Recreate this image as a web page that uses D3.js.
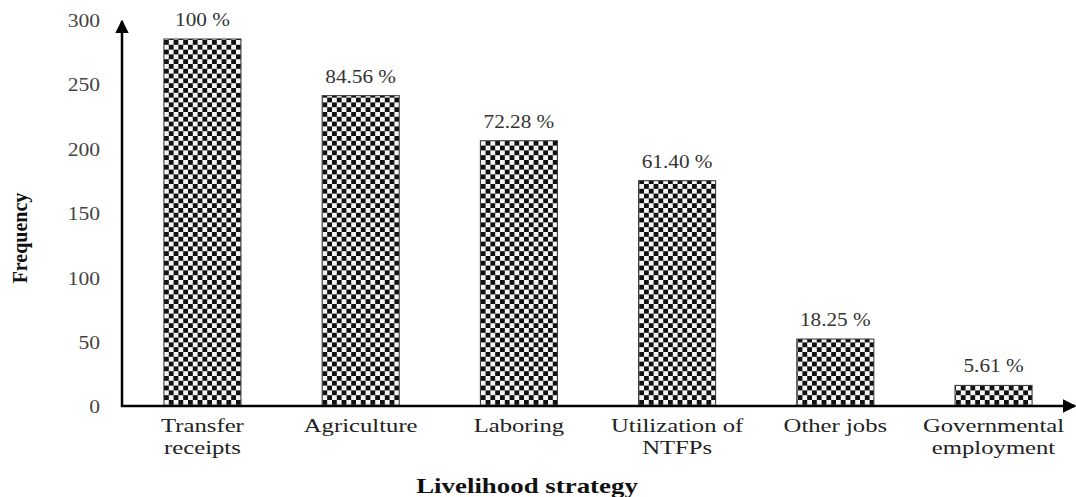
<!DOCTYPE html>
<html>
<head>
<meta charset="utf-8">
<script src="https://cdn.jsdelivr.net/npm/d3@7"></script>
<style>
  html, body { margin: 0; padding: 0; background: #fff; }
  svg { display: block; }
  text { font-family: "Liberation Serif", "Times New Roman", serif; }
</style>
</head>
<body>
<svg id="chart" width="1076" height="497"></svg>
<script>
const categories = ["Transfer receipts", "Agriculture", "Laboring", "Utilization of NTFPs", "Other jobs", "Governmental employment"];
const categoryLines = [["Transfer", "receipts"], ["Agriculture"], ["Laboring"], ["Utilization of", "NTFPs"], ["Other jobs"], ["Governmental", "employment"]];
const frequencies = [285, 241, 206, 175, 52, 16];
const percentLabels = ["100 %", "84.56 %", "72.28 %", "61.40 %", "18.25 %", "5.61 %"];
const yTicks = [0, 50, 100, 150, 200, 250, 300];

const svg = d3.select("#chart");
const x0 = 122, y0 = 406;

const x = d3.scaleBand().domain(categories).range([x0, 1074]).paddingInner(0.513).paddingOuter(0.265);
const y = d3.scaleLinear().domain([0, 300]).range([y0, y0 - 300 * 1.2877]);

// checker pattern
const defs = svg.append("defs");
const cell = 4.8;
const pat = defs.append("pattern").attr("id", "checker").attr("patternUnits", "userSpaceOnUse")
  .attr("width", cell * 2).attr("height", cell * 2).attr("x", 164).attr("y", 40);
pat.append("rect").attr("width", cell * 2).attr("height", cell * 2).attr("fill", "#f4f4f4");
pat.append("rect").attr("width", cell).attr("height", cell).attr("fill", "#111");
pat.append("rect").attr("x", cell).attr("y", cell).attr("width", cell).attr("height", cell).attr("fill", "#111");

const arrow = defs.append("marker").attr("id", "arrow").attr("viewBox", "0 0 10 10")
  .attr("refX", 9).attr("refY", 5).attr("markerWidth", 5.5).attr("markerHeight", 5.5)
  .attr("markerUnits", "strokeWidth").attr("orient", "auto");
arrow.append("path").attr("d", "M0,0 L10,5 L0,10 Z").attr("fill", "#000");

// bars
svg.append("g").selectAll("rect").data(categories).join("rect")
  .attr("x", d => x(d))
  .attr("y", (d, i) => y(frequencies[i]))
  .attr("width", x.bandwidth())
  .attr("height", (d, i) => y0 - y(frequencies[i]))
  .attr("fill", "url(#checker)")
  .attr("stroke", "#333")
  .attr("stroke-width", 1);

// percent labels
svg.append("g").selectAll("text").data(categories).join("text")
  .attr("transform", (d, i) => `translate(${x(d) + x.bandwidth() / 2},${y(frequencies[i]) - 13}) scale(1.18,1)`)
  .attr("text-anchor", "middle")
  .attr("font-size", 18)
  .attr("fill", "#333")
  .text((d, i) => percentLabels[i]);

// y axis ticks (labels only)
const yAxis = svg.append("g").attr("transform", `translate(${x0},0)`)
  .call(d3.axisLeft(y).tickValues(yTicks).tickSize(0).tickPadding(0));
yAxis.select(".domain").remove();
yAxis.selectAll("text")
  .attr("font-family", "Liberation Serif, serif")
  .attr("font-size", 18)
  .attr("fill", "#444")
  .attr("x", -22 / 1.2)
  .attr("dy", "0.38em")
  .attr("transform", "scale(1.2,1)");

// category labels
const xl = svg.append("g");
categories.forEach((c, i) => {
  const cx = x(c) + x.bandwidth() / 2;
  categoryLines[i].forEach((line, j) => {
    xl.append("text")
      .attr("transform", `translate(${cx},${432 + j * 22}) scale(1.3,1)`)
      .attr("text-anchor", "middle")
      .attr("font-size", 19)
      .attr("fill", "#222")
      .text(line);
  });
});

// axes lines with arrows
svg.append("line").attr("x1", x0).attr("y1", y0 + 1).attr("x2", x0).attr("y2", 21)
  .attr("stroke", "#000").attr("stroke-width", 2.5).attr("marker-end", "url(#arrow)");
svg.append("line").attr("x1", x0 - 1).attr("y1", y0).attr("x2", 1075).attr("y2", y0)
  .attr("stroke", "#000").attr("stroke-width", 2.5).attr("marker-end", "url(#arrow)");

// axis titles
svg.append("text")
  .attr("transform", "translate(527,493) scale(1.28,1)")
  .attr("text-anchor", "middle")
  .attr("font-size", 21)
  .attr("font-weight", "bold")
  .attr("fill", "#111")
  .text("Livelihood strategy");

svg.append("text")
  .attr("transform", "translate(27,238) rotate(-90)")
  .attr("text-anchor", "middle")
  .attr("font-size", 20)
  .attr("font-weight", "bold")
  .attr("fill", "#111")
  .text("Frequency");
</script>
</body>
</html>
